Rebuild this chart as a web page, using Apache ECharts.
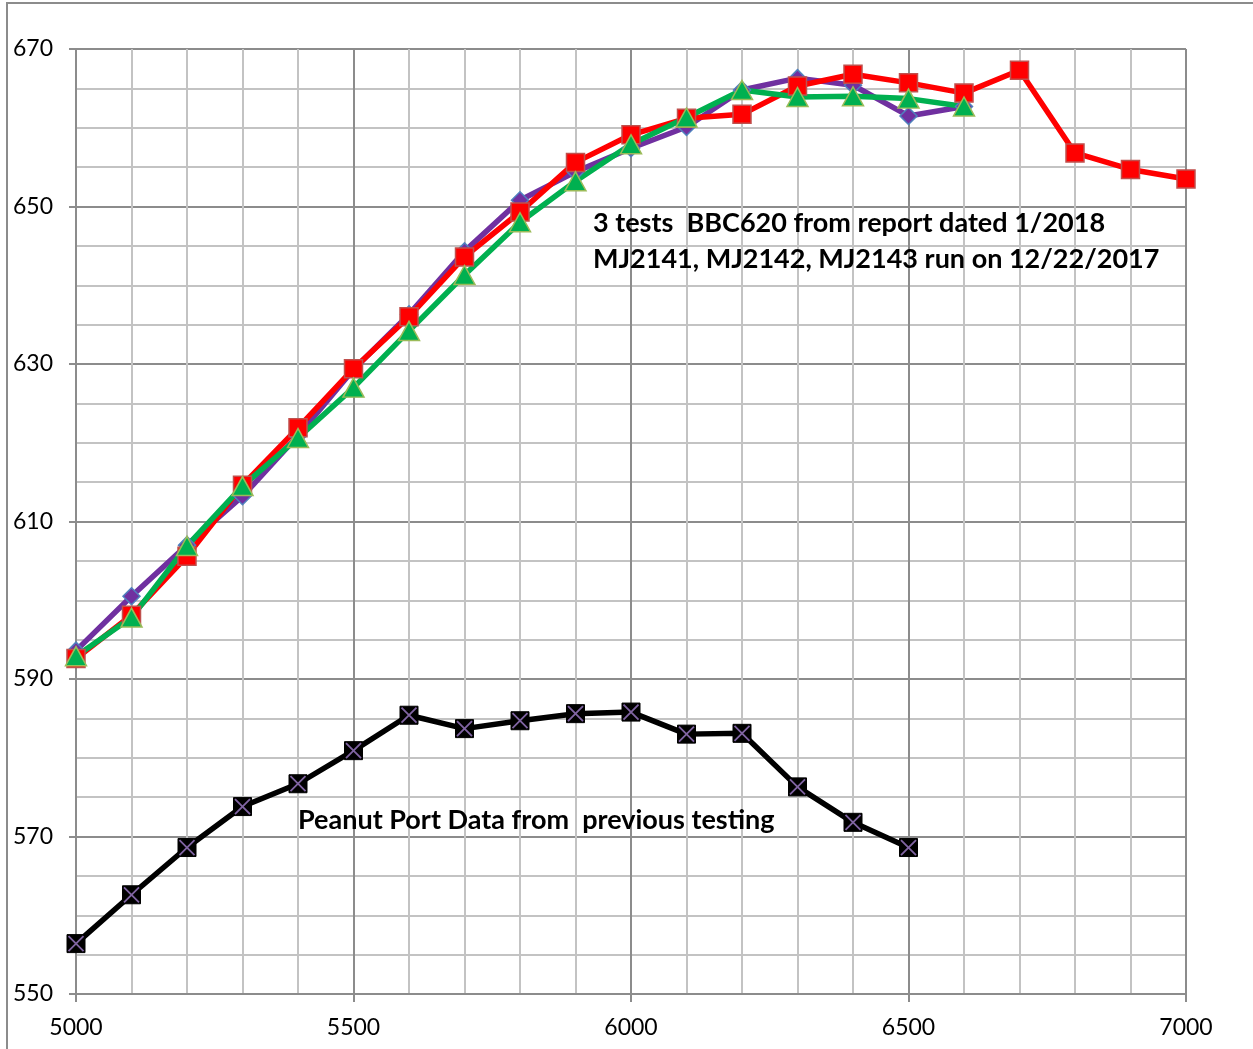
<!DOCTYPE html>
<html><head><meta charset="utf-8">
<script src="https://cdn.jsdelivr.net/npm/echarts@6/dist/echarts.min.js"></script>
<style>html,body{margin:0;padding:0;background:#fff}#c{width:1253px;height:1049px}</style>
</head><body><div id="c"></div>
<script>
const rpm = [5000,5100,5200,5300,5400,5500,5600,5700,5800,5900,6000,6100,6200,6300,6400,6500,6600,6700,6800,6900,7000];
const testPurple = [593.6,600.5,607.0,613.2,620.9,629.3,636.3,644.3,650.8,654.4,657.4,660.1,664.8,666.3,665.4,661.5,662.7];
const testRed    = [592.6,598.1,605.6,614.6,621.9,629.4,636.0,643.6,649.3,655.6,659.1,661.2,661.7,665.3,666.8,665.7,664.4,667.3,656.8,654.7,653.5];
const testGreen  = [592.9,597.8,606.9,614.5,620.6,627.0,634.2,641.3,648.0,653.2,657.9,661.3,664.8,663.9,664.0,663.7,662.7];
const peanut     = [556.4,562.6,568.6,573.8,576.7,580.9,585.4,583.7,584.7,585.6,585.8,583.0,583.1,576.3,571.8,568.6];
const xTicks = [5000,5500,6000,6500,7000];
const yTicks = [550,570,590,610,630,650,670];
const note1 = '3 tests  BBC620 from report dated 1/2018';
const note2 = 'MJ2141, MJ2142, MJ2143 run on 12/22/2017';
const note3 = 'Peanut Port Data from  previous testing';

const pair = (vals) => vals.map((v,i)=>[rpm[i], v]);
const FONT = 'Lato';
const chart = echarts.init(document.getElementById('c'), null, {renderer:'canvas'});
const majorC = '#8c8c8c', minorC = '#c3c3c3';
chart.setOption({
  animation:false,
  backgroundColor:'#fff',
  grid:{left:76,right:67,top:49,bottom:55,containLabel:false},
  xAxis:{type:'value',min:xTicks[0],max:xTicks[xTicks.length-1],interval:500,
    axisLine:{show:true,lineStyle:{color:majorC,width:2}},
    axisTick:{show:true,length:8,lineStyle:{color:majorC,width:2}},
    axisLabel:{color:'#000',fontFamily:FONT,fontSize:23,margin:22,formatter:(v)=>String(v)},
    splitLine:{show:true,lineStyle:{color:majorC,width:2}},
    minorTick:{show:false,splitNumber:5},
    minorSplitLine:{show:true,lineStyle:{color:minorC,width:2}}},
  yAxis:{type:'value',min:yTicks[0],max:yTicks[yTicks.length-1],interval:20,
    axisLine:{show:true,lineStyle:{color:majorC,width:2}},
    axisTick:{show:true,length:7,lineStyle:{color:majorC,width:2}},
    axisLabel:{color:'#000',fontFamily:FONT,fontSize:23,margin:23,formatter:(v)=>String(v)},
    splitLine:{show:true,lineStyle:{color:majorC,width:2}},
    minorTick:{show:false,splitNumber:4},
    minorSplitLine:{show:true,lineStyle:{color:minorC,width:2}}},
  series:[
    {type:'line',data:pair(testPurple),symbol:'diamond',symbolSize:17,
      lineStyle:{color:'#7030a0',width:5.5},itemStyle:{color:'#7030a0',borderColor:'#4f81bd',borderWidth:1.5}},
    {type:'line',data:pair(testRed),symbol:'rect',symbolSize:18,
      lineStyle:{color:'#ff0000',width:5.5},itemStyle:{color:'#ff0000',borderColor:'#c0504d',borderWidth:1.5}},
    {type:'line',data:pair(testGreen),symbol:'triangle',symbolSize:[21,19],
      lineStyle:{color:'#00b050',width:5.5},itemStyle:{color:'#00b050',borderColor:'#9bbb59',borderWidth:1.5}},
    {type:'line',data:pair(peanut),symbol:'rect',symbolSize:18,
      lineStyle:{color:'#000',width:5.5},itemStyle:{color:'#000',borderColor:'#000',borderWidth:1}},
    {type:'line',data:pair(peanut),symbol:'path://M0,0L10,10M10,0L0,10',symbolSize:15,
      lineStyle:{width:0,opacity:0},itemStyle:{color:'rgba(0,0,0,0)',borderColor:'#8064a2',borderWidth:1.8}}
  ],
  graphic:[
    {type:'rect',shape:{x:7,y:3,width:1300,height:1100},style:{fill:null,stroke:'#8c8c8c',lineWidth:2},z:-1,silent:true},
    {type:'text',x:593,y:223,style:{text:note1,font:'bold 27px '+FONT,fill:'#000',textVerticalAlign:'middle'},z:100},
    {type:'text',x:593,y:259,style:{text:note2,font:'bold 27px '+FONT,fill:'#000',textVerticalAlign:'middle'},z:100},
    {type:'text',x:298,y:820,style:{text:note3,font:'bold 27px '+FONT,fill:'#000',textVerticalAlign:'middle'},z:100}
  ]
});
</script></body></html>
